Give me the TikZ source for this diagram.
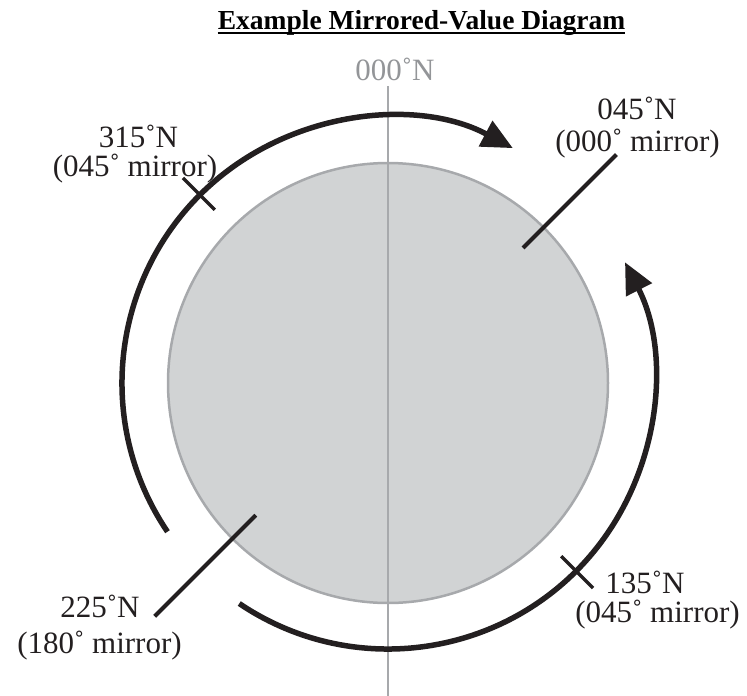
\documentclass[tikz,border=0pt]{standalone}
\usepackage{fontspec}
\setmainfont{Liberation Serif}
\usetikzlibrary{arrows.meta}
\definecolor{diskfill}{HTML}{D1D3D4}
\definecolor{diskline}{HTML}{A7A9AC}
\definecolor{northgray}{HTML}{939598}
\definecolor{ink}{HTML}{231F20}
\begin{document}
\begin{tikzpicture}[x=1pt,y=1pt,
  lbl/.style={font=\fontsize{31}{31}\selectfont, text=ink, inner sep=0pt, anchor=base},
  bigarc/.style={line width=5.5pt, draw=ink, -{Triangle[length=31pt,width=28pt]}},
  tickmark/.style={line width=3.5pt, draw=ink},
  leader/.style={line width=4pt, draw=ink}]
\useasboundingbox (0,0) rectangle (747,-696);
\coordinate (C) at (388,-383);
% disk
\node[circle, minimum size=440pt, fill=diskfill, draw=diskline, line width=2.5pt, inner sep=0pt] (disk) at (C) {};
% north line
\coordinate (ntop) at (388,-86);
\coordinate (nbot) at (388,-696);
\draw[diskline, line width=2.5pt] (ntop) -- (nbot);
% arcs
\coordinate (arcAstart) at ([shift={(214:266)}]C);
\coordinate (arcBstart) at ([shift={(-124:266)}]C);
\draw[bigarc] (arcAstart) arc[start angle=214, end angle=62, radius=266];
\draw[bigarc] (arcBstart) arc[start angle=-124, end angle=27, radius=266];
% ticks
\coordinate (t1a) at ([shift={(135:245)}]C);
\coordinate (t1b) at ([shift={(135:290)}]C);
\coordinate (t2a) at ([shift={(-45:245)}]C);
\coordinate (t2b) at ([shift={(-45:290)}]C);
\draw[tickmark] (t1a) -- (t1b);
\draw[tickmark] (t2a) -- (t2b);
% leaders
\coordinate (l1a) at ([shift={(45:191)}]C);
\coordinate (l1b) at ([shift={(45:323)}]C);
\coordinate (l2a) at ([shift={(225:187)}]C);
\coordinate (l2b) at ([shift={(225:330)}]C);
\draw[leader] (l1a) -- (l1b);
\draw[leader] (l2a) -- (l2b);
% title
\node[font=\fontsize{27.5}{30}\selectfont\bfseries, text=black, inner sep=0pt, anchor=base] (title) at (421.5,-29) {Example Mirrored-Value Diagram};
\draw[black, line width=1.8pt] ([yshift=-4pt]title.base west) -- ([yshift=-4pt]title.base east);
% labels
\node[lbl, text=northgray] (north) at (395,-80) {000˚N};
\node[lbl] (a1) at (138.5,-147) {315˚N};
\node[lbl] (a2) at (135,-176) {(045˚ mirror)};
\node[lbl] (b1) at (637,-119) {045˚N};
\node[lbl] (b2) at (637.5,-151) {(000˚ mirror)};
\node[lbl] (c1) at (645,-593) {135˚N};
\node[lbl] (c2) at (657.5,-622) {(045˚ mirror)};
\node[lbl] (d1) at (100,-617) {225˚N};
\node[lbl] (d2) at (99.5,-653) {(180˚ mirror)};
\end{tikzpicture}
\end{document}
